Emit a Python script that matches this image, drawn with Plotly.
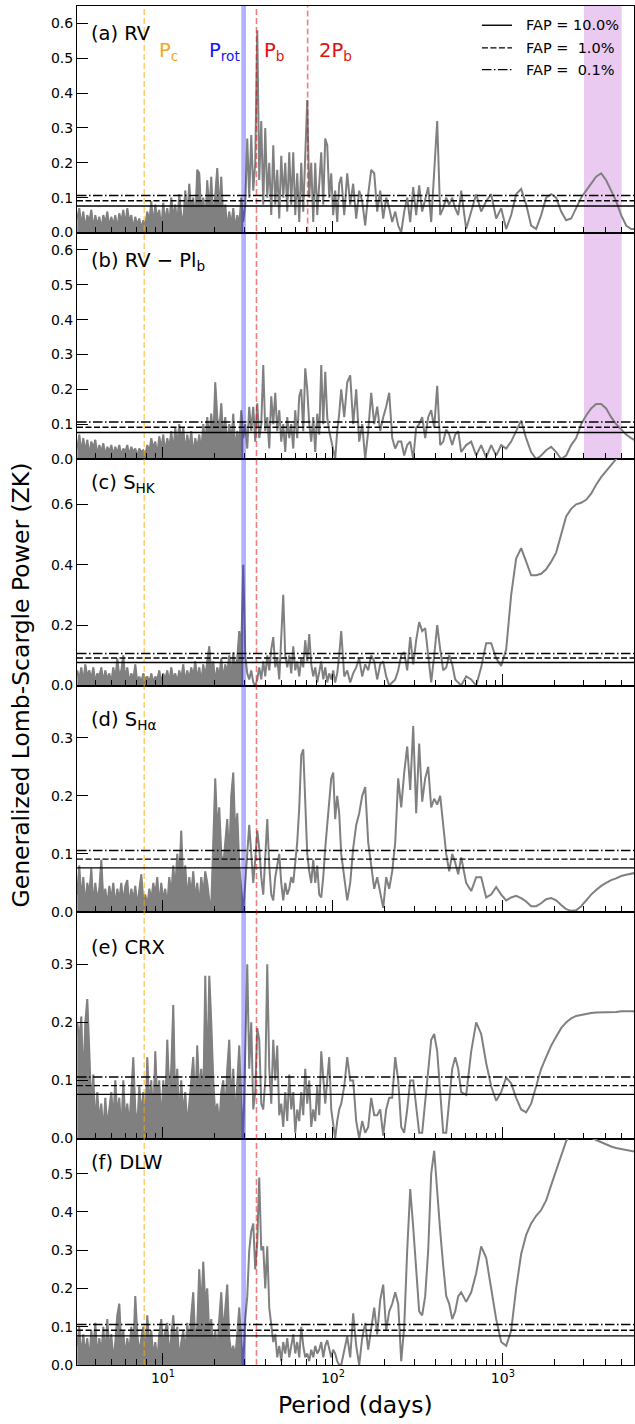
import math
import plotly.graph_objects as go
from plotly.subplots import make_subplots

# ---------------- data ----------------
periods = [
    3.132, 3.218, 3.307, 3.398, 3.491, 3.587, 3.686, 3.787, 3.891, 3.998,
    4.108, 4.221, 4.337, 4.456, 4.578, 4.704, 4.833, 4.966, 5.102, 5.242,
    5.386, 5.534, 5.686, 5.842, 6.003, 6.166, 6.337, 6.511, 6.690, 6.873,
    7.062, 7.256, 7.455, 7.660, 7.870, 8.086, 8.309, 8.536, 8.771, 9.012,
    9.259, 9.511, 9.772, 10.04, 10.31, 10.60, 10.89, 11.19, 11.50, 11.81,
    12.14, 12.47, 12.81, 13.16, 13.53, 13.90, 14.28, 14.67, 15.07, 15.49,
    15.91, 16.35, 16.80, 17.26, 17.74, 18.22, 18.73, 19.24, 19.77, 20.31,
    20.87, 21.44, 22.03, 22.63, 23.26, 23.89, 24.55, 25.23, 25.92, 26.63,
    27.36, 28.11, 28.88, 29.68, 30.49, 31.33, 32.18, 33.07, 33.98, 34.91,
    35.87, 36.86, 37.87, 38.91, 39.98, 41.08, 42.21, 43.37, 44.56, 45.78,
    47.04, 48.33, 49.66, 51.02, 52.42, 53.86, 55.34, 56.86, 58.42, 60.03,
    61.66, 63.37, 65.11, 66.90, 68.73, 70.62, 72.56, 74.55, 76.60, 78.70,
    80.86, 83.09, 85.36, 87.71, 90.12, 92.59, 95.11, 97.72, 100.4, 103.1,
    106.0, 108.9, 111.9,
    116.6, 121.4, 126.4, 131.6, 137.1, 142.8, 148.7, 154.9, 161.3, 168.0,
    175.0, 182.2, 189.8, 197.7, 205.8, 214.4, 223.3, 232.6, 242.2, 252.3,
    262.7, 273.6, 285.0, 296.8, 309.0, 321.8, 335.2, 349.1, 363.6, 378.7,
    394.4, 410.8, 427.8, 445.6, 464.1, 483.3, 503.4, 524.2, 546.0, 568.6,
    608.4, 651.1, 696.6, 745.5, 797.5, 853.6, 913.2, 977.2, 1046, 1119,
    1197, 1281, 1371, 1467, 1570, 1680, 1797, 1924, 2058, 2203,
    2357, 2522, 2699, 2888, 3090, 3307, 3538, 3787, 4052, 4337,
    4640, 4966, 5313, 5686, 5924,
]

power_rv = [
    0.04, 0.07, 0.02, 0.06, 0.01, 0.05, 0.03, 0.065, 0.01, 0.05,
    0.02, 0.045, 0.01, 0.05, 0.025, 0.06, 0.015, 0.045, 0.02, 0.05,
    0.01, 0.055, 0.03, 0.065, 0.02, 0.07, 0.03, 0.05, 0.01, 0.045,
    0.02, 0.04, 0.01, 0.035, 0.02, 0.06, 0.03, 0.09, 0.02, 0.08,
    0.04, 0.065, 0.01, 0.085, 0.03, 0.07, 0.02, 0.1, 0.04, 0.08,
    0.02, 0.11, 0.05, 0.03, 0.12, 0.04, 0.14, 0.06, 0.1, 0.03,
    0.18, 0.17, 0.05, 0.1, 0.02, 0.15, 0.06, 0.16, 0.03, 0.12,
    0.185, 0.06, 0.16, 0.04, 0.08, 0.01, 0.06, 0.02, 0.07, 0.01,
    0.05, 0.02, 0.1, 0.03, 0.08, 0.27, 0.1, 0.28, 0.12, 0.2,
    0.58, 0.15, 0.32, 0.08, 0.30, 0.1, 0.2, 0.05, 0.25, 0.08,
    0.18, 0.04, 0.22, 0.1, 0.2, 0.06, 0.23, 0.08, 0.23, 0.05,
    0.17, 0.03, 0.2, 0.06, 0.25, 0.38, 0.1, 0.2, 0.03, 0.2,
    0.05, 0.15, 0.23, 0.08, 0.27, 0.25, 0.1, 0.17, 0.05, 0.12,
    0.03, 0.14, 0.16,
    0.05, 0.17, 0.08, 0.14, 0.04, 0.12, 0.09, 0.02, 0.11, 0.18,
    0.17, 0.06, 0.12, 0.04, 0.1, 0.07, 0.03, 0.06, 0.02, 0.0,
    0.06, 0.1, 0.03, 0.13, 0.05, 0.135, 0.06, 0.1, 0.13, 0.03,
    0.16, 0.32, 0.05, 0.07, 0.1, 0.08, 0.1, 0.07, 0.05, 0.12,
    0.01, 0.06, 0.11, 0.06, 0.09, 0.11, 0.04, 0.07, 0.01, 0.05,
    0.11, 0.125, 0.08, 0.02, 0.01, 0.05, 0.1, 0.11, 0.1, 0.06,
    0.035, 0.04, 0.07, 0.1, 0.12, 0.14, 0.16, 0.17, 0.15, 0.12,
    0.09, 0.05, 0.02, 0.01, 0.01,
]

power_rv_res = [
    0.03, 0.07, 0.02, 0.06, 0.02, 0.055, 0.01, 0.05, 0.03, 0.055,
    0.01, 0.04, 0.02, 0.045, 0.01, 0.035, 0.02, 0.04, 0.01, 0.035,
    0.015, 0.04, 0.01, 0.03, 0.02, 0.04, 0.01, 0.035, 0.02, 0.03,
    0.01, 0.03, 0.02, 0.025, 0.01, 0.04, 0.02, 0.06, 0.03, 0.05,
    0.01, 0.065, 0.03, 0.07, 0.02, 0.06, 0.03, 0.08, 0.02, 0.09,
    0.04, 0.1, 0.05, 0.09, 0.02, 0.07, 0.03, 0.08, 0.01, 0.06,
    0.03, 0.07, 0.02, 0.1, 0.04, 0.12, 0.06, 0.13, 0.05, 0.22,
    0.12, 0.08, 0.16, 0.06, 0.12, 0.03, 0.1, 0.05, 0.13, 0.02,
    0.08, 0.04, 0.14, 0.06, 0.1, 0.03, 0.15, 0.08, 0.15, 0.05,
    0.16, 0.06, 0.1, 0.27, 0.08, 0.12, 0.03, 0.18, 0.1, 0.19,
    0.08, 0.14, 0.05, 0.1, 0.02, 0.12, 0.06, 0.1, 0.03, 0.14,
    0.06, 0.18, 0.2, 0.08, 0.26, 0.2, 0.1, 0.05, 0.12, 0.02,
    0.13, 0.07, 0.27, 0.1, 0.25, 0.12, 0.08, 0.05, 0.02, 0.0,
    0.08, 0.13, 0.2,
    0.12, 0.22, 0.24, 0.1, 0.2, 0.05, 0.1, 0.0, 0.08, 0.19,
    0.1, 0.15, 0.08, 0.12, 0.15, 0.19, 0.06, 0.03, 0.05, 0.05,
    0.01, 0.04, 0.05, 0.0, 0.09, 0.1, 0.12, 0.06, 0.12, 0.14,
    0.09, 0.21, 0.04, 0.05, 0.085, 0.07, 0.04, 0.07, 0.08, 0.02,
    0.04, 0.05, 0.01, 0.04, 0.005, 0.04, 0.01, 0.04, 0.03, 0.05,
    0.08, 0.11, 0.06, 0.02, 0.0, 0.01, 0.025, 0.035, 0.02, 0.0,
    0.01, 0.04, 0.06, 0.1, 0.125, 0.145, 0.158, 0.158, 0.145, 0.12,
    0.1, 0.085, 0.07, 0.06, 0.055,
]

power_shk = [
    0.05, 0.02, 0.06, 0.01, 0.07, 0.03, 0.05, 0.02, 0.06, 0.01,
    0.04, 0.03, 0.06, 0.01, 0.05, 0.02, 0.04, 0.01, 0.06, 0.02,
    0.09, 0.03, 0.05, 0.1, 0.02, 0.06, 0.01, 0.04, 0.02, 0.07,
    0.01, 0.03, 0.01, 0.04, 0.02, 0.03, 0.01, 0.04, 0.01, 0.03,
    0.02, 0.05, 0.01, 0.04, 0.02, 0.05, 0.01, 0.06, 0.02, 0.04,
    0.01, 0.05, 0.02, 0.07, 0.01, 0.05, 0.02, 0.06, 0.03, 0.08,
    0.02, 0.06, 0.01, 0.07, 0.03, 0.09, 0.13, 0.04, 0.08, 0.01,
    0.06, 0.03, 0.09, 0.02, 0.07, 0.04, 0.1, 0.03, 0.11, 0.05,
    0.09, 0.18, 0.12, 0.4, 0.1, 0.04, 0.02, 0.05, 0.01, 0.0,
    0.02, 0.06, 0.02, 0.08, 0.03, 0.1, 0.05, 0.12, 0.16, 0.06,
    0.09, 0.02, 0.15, 0.3, 0.1, 0.06, 0.1, 0.04, 0.13, 0.05,
    0.08, 0.03, 0.09, 0.06, 0.15, 0.08, 0.17, 0.07, 0.03, 0.06,
    0.01, 0.05, 0.08, 0.02, 0.06, 0.01, 0.04, 0.02, 0.05, 0.01,
    0.04, 0.1, 0.18,
    0.03, 0.05, 0.01, 0.04, 0.06, 0.09, 0.03, 0.07, 0.05, 0.1,
    0.08, 0.02, 0.07, 0.08, 0.03, 0.0, 0.01, 0.02, 0.05, 0.1,
    0.11, 0.05, 0.16, 0.07, 0.15, 0.21, 0.18, 0.19, 0.1, 0.01,
    0.1, 0.2, 0.12, 0.05, 0.06, 0.1, 0.07, 0.02, 0.01, 0.0,
    0.03, 0.02, 0.0, 0.06, 0.14, 0.14, 0.09, 0.065, 0.12, 0.3,
    0.42, 0.455, 0.41, 0.365, 0.365, 0.37, 0.385, 0.41, 0.44, 0.5,
    0.56, 0.585, 0.6, 0.605, 0.615, 0.635, 0.665, 0.69, 0.71, 0.73,
    0.75, 0.77, 0.78, 0.79, 0.8,
]

power_sha = [
    0.03, 0.08, 0.02, 0.06, 0.01, 0.05, 0.03, 0.075, 0.01, 0.05,
    0.02, 0.04, 0.09, 0.02, 0.04, 0.01, 0.045, 0.02, 0.05, 0.01,
    0.04, 0.02, 0.05, 0.015, 0.045, 0.055, 0.01, 0.04, 0.02, 0.045,
    0.01, 0.04, 0.065, 0.02, 0.03, 0.01, 0.04, 0.02, 0.05, 0.03,
    0.06, 0.01, 0.05, 0.02, 0.04, 0.01, 0.06, 0.03, 0.08, 0.04,
    0.1, 0.06, 0.14, 0.05, 0.08, 0.02, 0.06, 0.03, 0.07, 0.02,
    0.05, 0.01, 0.06, 0.03, 0.07, 0.05, 0.02, 0.01, 0.12, 0.23,
    0.14, 0.18, 0.1, 0.08, 0.12, 0.16, 0.09, 0.2, 0.24, 0.13,
    0.17, 0.08, 0.04, 0.0, 0.05, 0.1, 0.15, 0.1, 0.05, 0.09,
    0.14, 0.11, 0.06, 0.03, 0.1, 0.16, 0.08, 0.03, 0.02, 0.06,
    0.08, 0.1, 0.05, 0.02, 0.05, 0.03, 0.04, 0.06, 0.05, 0.08,
    0.12, 0.18, 0.27, 0.28, 0.18, 0.1, 0.07, 0.05, 0.09, 0.05,
    0.08, 0.03, 0.025, 0.06, 0.11, 0.15, 0.2, 0.23, 0.24, 0.16,
    0.2, 0.17, 0.1,
    0.06, 0.02, 0.05, 0.11, 0.15, 0.17, 0.2, 0.215, 0.12, 0.08,
    0.04, 0.06, 0.03, 0.007, 0.06, 0.04, 0.07, 0.12, 0.23, 0.18,
    0.24, 0.285, 0.21, 0.32, 0.17, 0.29, 0.19, 0.23, 0.25, 0.18,
    0.195, 0.185, 0.2, 0.15, 0.1, 0.07, 0.1, 0.085, 0.065, 0.094,
    0.05, 0.036, 0.06, 0.06, 0.025, 0.03, 0.043, 0.03, 0.02, 0.025,
    0.028, 0.024, 0.018, 0.01, 0.01, 0.015, 0.022, 0.024, 0.02, 0.012,
    0.005, 0.002, 0.003, 0.01, 0.02, 0.03, 0.038, 0.045, 0.05, 0.055,
    0.058, 0.062, 0.064, 0.066, 0.067,
]

power_crx = [
    0.2, 0.17, 0.21, 0.09, 0.2, 0.24, 0.15, 0.05, 0.11, 0.02,
    0.08, 0.03, 0.06, 0.01, 0.07, 0.02, 0.05, 0.08, 0.03, 0.1,
    0.04, 0.07, 0.01, 0.1, 0.03, 0.06, 0.02, 0.08, 0.14, 0.05,
    0.02, 0.09, 0.04, 0.08, 0.02, 0.14, 0.05, 0.1, 0.03, 0.15,
    0.06, 0.1, 0.02, 0.1, 0.05, 0.17, 0.08, 0.12, 0.23, 0.06,
    0.12, 0.03, 0.1, 0.04, 0.08, 0.02, 0.06, 0.1, 0.14, 0.05,
    0.16, 0.08, 0.12, 0.06, 0.28, 0.1, 0.28, 0.2, 0.1, 0.04,
    0.06, 0.02, 0.08, 0.1, 0.04, 0.12, 0.17, 0.06, 0.12, 0.03,
    0.09, 0.16, 0.06, 0.0, 0.15, 0.3, 0.12, 0.2, 0.05, 0.08,
    0.19, 0.17, 0.06, 0.05, 0.1, 0.3, 0.12, 0.06, 0.17, 0.1,
    0.16, 0.04, 0.06, 0.02, 0.08, 0.03, 0.11, 0.05, 0.08, 0.01,
    0.05, 0.03, 0.08, 0.04, 0.12, 0.06, 0.1, 0.02, 0.05, 0.03,
    0.09, 0.04, 0.15, 0.1, 0.06, 0.1, 0.14, 0.05, 0.02, 0.0,
    0.03, 0.05, 0.06,
    0.09, 0.14, 0.1, 0.1, 0.03, 0.0, 0.03, 0.01, 0.02, 0.07,
    0.04, 0.04, 0.05, 0.005, 0.05, 0.07, 0.07, 0.14, 0.1, 0.02,
    0.01, 0.05, 0.1, 0.1, 0.06, 0.01, 0.01, 0.06, 0.12, 0.17,
    0.18, 0.15, 0.08, 0.01, 0.01, 0.06, 0.12, 0.14, 0.12, 0.08,
    0.075, 0.15, 0.2, 0.18, 0.13, 0.09, 0.065, 0.08, 0.105, 0.095,
    0.07, 0.05, 0.045, 0.06, 0.09, 0.12, 0.14, 0.16, 0.175, 0.19,
    0.2, 0.207, 0.211, 0.213, 0.215, 0.216, 0.217, 0.217, 0.218, 0.218,
    0.218, 0.219, 0.219, 0.219, 0.219,
]

power_dlw = [
    0.05, 0.1, 0.02, 0.08, 0.03, 0.07, 0.01, 0.09, 0.04, 0.11,
    0.02, 0.07, 0.03, 0.1, 0.02, 0.12, 0.04, 0.08, 0.01, 0.06,
    0.13, 0.16, 0.05, 0.09, 0.02, 0.07, 0.03, 0.1, 0.04, 0.18,
    0.08, 0.03, 0.07, 0.1, 0.02, 0.13, 0.05, 0.09, 0.02, 0.06,
    0.01, 0.08, 0.12, 0.04, 0.09, 0.11, 0.02, 0.08, 0.13, 0.05,
    0.1, 0.01, 0.06, 0.09, 0.03, 0.11, 0.05, 0.13, 0.19, 0.06,
    0.1, 0.25, 0.14, 0.27, 0.16, 0.2, 0.08, 0.12, 0.04, 0.09,
    0.03, 0.12, 0.19, 0.08, 0.14, 0.21, 0.07, 0.03, 0.05, 0.02,
    0.08, 0.15, 0.06, 0.0, 0.12, 0.18, 0.3, 0.35, 0.37, 0.25,
    0.32, 0.49, 0.3, 0.31, 0.2, 0.31, 0.15, 0.1, 0.06, 0.08,
    0.02, 0.05, 0.01, 0.06, 0.03, 0.07, 0.02, 0.05, 0.08, 0.03,
    0.06, 0.02, 0.1, 0.05, 0.02, 0.03, 0.01, 0.04, 0.02, 0.05,
    0.03, 0.04, 0.06, 0.02, 0.05, 0.065, 0.04, 0.02, 0.04, 0.03,
    0.01, 0.0, 0.0,
    0.04, 0.075, 0.02, 0.135, 0.05, 0.0, 0.07, 0.11, 0.04, 0.1,
    0.15, 0.08, 0.17, 0.21, 0.09, 0.14, 0.16, 0.19, 0.16, 0.01,
    0.1, 0.3, 0.46, 0.36, 0.24, 0.14, 0.13, 0.18, 0.3, 0.5,
    0.56, 0.45, 0.35, 0.26, 0.18, 0.16, 0.12, 0.14, 0.18, 0.19,
    0.165, 0.19, 0.24, 0.31, 0.28, 0.2, 0.12, 0.06, 0.05, 0.09,
    0.2, 0.29, 0.34, 0.37, 0.39, 0.405, 0.43, 0.47, 0.51, 0.55,
    0.585, 0.605, 0.615, 0.615, 0.605, 0.595, 0.588, 0.582, 0.576, 0.571,
    0.567, 0.564, 0.561, 0.559, 0.558,
]

fap_levels = [0.076, 0.091, 0.106]
fap_labels = ["FAP = 10.0%", "FAP =\u00a0 1.0%", "FAP =\u00a0 0.1%"]
panel_labels = ["(a) RV", "(b) RV \u2212 Pl<sub>b</sub>", "(c) S<sub>HK</sub>",
                "(d) S<sub>H\u03b1</sub>", "(e) CRX", "(f) DLW"]
y_max = [0.65, 0.65, 0.75, 0.39, 0.39, 0.592]
y_dtick = [0.1, 0.1, 0.2, 0.1, 0.1, 0.1]
dense_limit = 30.0   # below this period the periodogram oscillates faster than a pixel

p_c = 7.76
p_rot_lo, p_rot_hi = 28.9, 30.8
p_b = 35.5
p_2b = 71.0
long_lo, long_hi = 3000, 5000

x_range = [3.12, 5910]
major_ticks = [10, 100, 1000]
major_text = ["10<sup>1</sup>", "10<sup>2</sup>", "10<sup>3</sup>"]
minor_ticks = [4, 5, 6, 7, 8, 9, 20, 30, 40, 50, 60, 70, 80, 90,
               200, 300, 400, 500, 600, 700, 800, 900, 2000, 3000, 4000, 5000]

# ---------------- figure ----------------
FONT = "DejaVu Sans"
GRAY = "#808080"
series = [power_rv, power_rv_res, power_shk, power_sha, power_crx, power_dlw]

fig = make_subplots(rows=6, cols=1, shared_xaxes=True, vertical_spacing=0)

for i, s in enumerate(series):
    dense_p = [p for p in periods if p <= dense_limit]
    dense_v = [v for p, v in zip(periods, s) if p <= dense_limit]
    fig.add_trace(go.Scatter(x=dense_p, y=dense_v, mode="lines", fill="tozeroy",
                             fillcolor=GRAY, line=dict(color=GRAY, width=0.5),
                             showlegend=False, hoverinfo="skip"),
                  row=i + 1, col=1)
    fig.add_trace(go.Scatter(x=periods, y=s, mode="lines",
                             line=dict(color=GRAY, width=2),
                             showlegend=False, hoverinfo="skip"),
                  row=i + 1, col=1)

for i in range(6):
    fig.update_xaxes(type="log", range=[math.log10(x_range[0]), math.log10(x_range[1])],
                     showline=True, mirror=True, linecolor="black", linewidth=1,
                     ticks="inside", ticklen=12, tickwidth=1.2, tickcolor="black",
                     tickmode="array", tickvals=major_ticks, ticktext=major_text,
                     showticklabels=(i == 5),
                     minor=dict(ticks="inside", ticklen=6, tickwidth=1, tickcolor="black",
                                tickmode="array", tickvals=minor_ticks, showgrid=False),
                     showgrid=False, zeroline=False, automargin=False,
                     tickfont=dict(family=FONT, size=14, color="black"),
                     row=i + 1, col=1)
    fig.update_yaxes(range=[0, y_max[i]], tick0=0, dtick=y_dtick[i], tickformat=".1f",
                     ticks="inside", ticklen=11, tickwidth=1.2, tickcolor="black",
                     showline=True, mirror=True, linecolor="black", linewidth=1,
                     showgrid=False, zeroline=False, automargin=False,
                     tickfont=dict(family=FONT, size=14, color="black"),
                     row=i + 1, col=1)

shapes = []
# long-period band in panels (a) and (b)
for ax in ["y", "y2"]:
    shapes.append(dict(type="rect", xref="x", yref=ax + " domain", x0=long_lo, x1=long_hi,
                       y0=0, y1=1, fillcolor="rgba(190,80,210,0.30)", line=dict(width=0),
                       layer="below"))
# rotation band, planet lines across all panels
shapes.append(dict(type="rect", xref="x", yref="paper", x0=p_rot_lo, x1=p_rot_hi, y0=0, y1=1,
                   fillcolor="rgba(0,0,255,0.30)", line=dict(width=0), layer="above"))
shapes.append(dict(type="line", xref="x", yref="paper", x0=p_c, x1=p_c, y0=0, y1=1,
                   line=dict(color="rgba(255,165,0,0.55)", width=1.6, dash="6px,3px"),
                   layer="above"))
shapes.append(dict(type="line", xref="x", yref="paper", x0=p_b, x1=p_b, y0=0, y1=1,
                   line=dict(color="rgba(230,0,0,0.5)", width=1.6, dash="6px,3px"),
                   layer="above"))
shapes.append(dict(type="line", xref="x", yref="y domain", x0=p_2b, x1=p_2b, y0=0, y1=1,
                   line=dict(color="rgba(230,0,0,0.5)", width=1.6, dash="6px,3px"),
                   layer="above"))
# FAP levels
dashes = ["solid", "6px,2.5px", "9.5px,2.5px,1.5px,2.5px"]
for i in range(6):
    ax = "y" if i == 0 else "y%d" % (i + 1)
    xd = "x domain" if i == 0 else "x%d domain" % (i + 1)
    for lvl, d in zip(fap_levels, dashes):
        shapes.append(dict(type="line", xref=xd, yref=ax, x0=0, x1=1, y0=lvl, y1=lvl,
                           line=dict(color="black", width=1.4, dash=d), layer="above"))

# legend (manual) in panel (a)
leg_rows = [0.915, 0.815, 0.719]
for yy, d in zip(leg_rows, dashes):
    shapes.append(dict(type="line", xref="x domain", yref="y domain", x0=0.727, x1=0.781,
                       y0=yy, y1=yy, line=dict(color="black", width=1.4, dash=d),
                       layer="above"))

annotations = []
for yy, t in zip(leg_rows, fap_labels):
    annotations.append(dict(text=t, xref="x domain", yref="y domain", x=0.803, y=yy,
                            xanchor="left", yanchor="middle", showarrow=False,
                            font=dict(family=FONT, size=14.5, color="black")))

label_y = [0.878, 0.874, 0.892, 0.845, 0.845, 0.896]
for i, (t, yy) in enumerate(zip(panel_labels, label_y)):
    xd = "x domain" if i == 0 else "x%d domain" % (i + 1)
    yd = "y domain" if i == 0 else "y%d domain" % (i + 1)
    annotations.append(dict(text=t, xref=xd, yref=yd, x=0.021, y=yy, xanchor="left",
                            yanchor="middle", showarrow=False,
                            font=dict(family=FONT, size=19.5, color="black")))

period_labels = [("P<sub>c</sub>", 0.965, "rgb(243,168,40)"),
                 ("P<sub>rot</sub>", 1.259, "rgb(20,20,245)"),
                 ("P<sub>b</sub>", 1.582, "rgb(225,15,15)"),
                 ("2P<sub>b</sub>", 1.906, "rgb(225,15,15)")]
for t, xl, c in period_labels:
    annotations.append(dict(text=t, xref="x", yref="y domain", x=xl, y=0.797,
                            xanchor="left", yanchor="middle", showarrow=False,
                            font=dict(family=FONT, size=19.5, color=c)))

annotations.append(dict(text="Generalized Lomb-Scargle Power (ZK)", xref="paper", yref="paper",
                        x=-0.1023, y=0.5, xanchor="center", yanchor="middle", textangle=-90,
                        showarrow=False, font=dict(family=FONT, size=23.5, color="black")))
annotations.append(dict(text="Period (days)", xref="paper", yref="paper", x=0.5, y=-0.0294,
                        xanchor="center", yanchor="middle", showarrow=False,
                        font=dict(family=FONT, size=23.5, color="black")))

fig.update_layout(width=635, height=1424, margin=dict(l=77, r=1, t=6, b=59),
                  paper_bgcolor="white", plot_bgcolor="white",
                  font=dict(family=FONT, size=14, color="black"),
                  shapes=shapes, annotations=annotations, showlegend=False)

fig.write_html("out.html")
